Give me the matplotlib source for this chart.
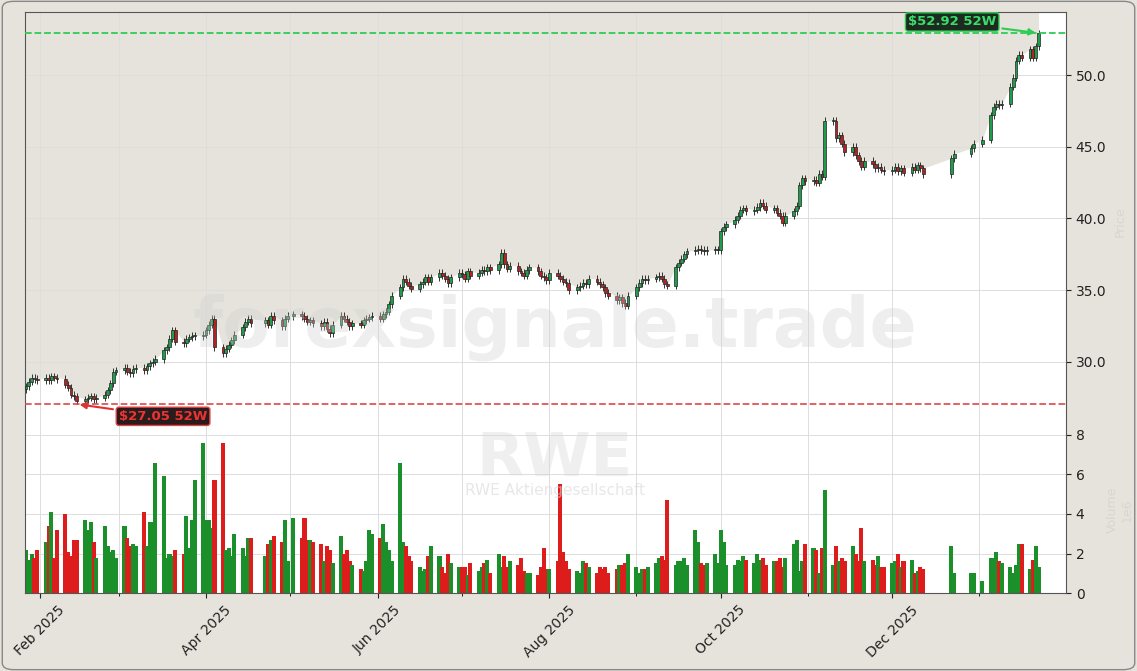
import matplotlib
matplotlib.use("Agg")
import matplotlib.pyplot as plt
import matplotlib.dates as mdates
from matplotlib.patches import FancyBboxPatch
import numpy as np
import pandas as pd

closes_by_month = {
    "2025-01": [28.3, 28.6, 28.9, 28.8, 28.7],
    "2025-02": [28.9, 28.7, 29.0, 28.9, 28.8, 28.4, 28.2, 27.7, 27.6, 27.3, 27.4, 27.5, 27.6, 27.4, 27.5, 27.7, 28.0, 28.5, 29.3, 29.4],
    "2025-03": [29.6, 29.3, 29.2, 29.5, 29.6, 29.4, 29.7, 29.9, 30.0, 30.2, 30.8, 31.0, 31.6, 32.2, 31.4, 31.3, 31.6, 31.7, 31.8, 31.8, 31.9],
    "2025-04": [32.2, 32.6, 33.0, 31.0, 30.6, 30.9, 31.2, 31.5, 31.9, 32.4, 32.8, 33.0, 32.7, 32.9, 32.6, 33.2, 32.9, 32.5, 33.0, 33.2],
    "2025-05": [33.3, 33.2, 33.0, 32.8, 32.9, 32.7, 32.5, 32.8, 32.3, 32.0, 32.6, 33.2, 33.0, 32.8, 32.5, 32.7, 32.6, 32.9, 33.0, 33.1, 33.2],
    "2025-06": [33.0, 33.3, 33.5, 34.0, 34.6, 35.2, 35.8, 35.6, 35.3, 35.1, 35.4, 35.6, 35.9, 35.6, 35.9, 36.2, 36.0, 35.8, 35.5, 35.9, 36.2],
    "2025-07": [36.1, 35.8, 36.3, 36.0, 36.2, 36.4, 36.3, 36.6, 36.4, 36.8, 37.6, 36.8, 36.5, 36.7, 36.3, 36.2, 36.0, 36.4, 36.6, 36.3, 36.0, 35.9, 35.7],
    "2025-08": [36.2, 36.0, 35.8, 35.6, 35.5, 35.0, 35.2, 35.3, 35.5, 35.4, 35.8, 35.6, 35.4, 35.2, 34.8, 34.6, 34.3, 34.5, 34.1, 33.9, 34.6],
    "2025-09": [35.2, 35.5, 35.8, 35.7, 35.8, 35.9, 36.0, 35.8, 35.4, 35.3, 36.6, 36.9, 37.2, 37.5, 37.7, 37.8, 37.9, 37.8, 37.7, 37.8, 37.8, 37.8],
    "2025-10": [39.1, 39.4, 39.6, 39.9, 40.2, 40.6, 40.7, 40.5, 40.6, 40.8, 41.1, 40.9, 40.6, 40.7, 40.4, 40.2, 39.7, 40.2, 40.5, 40.9, 42.3, 42.8, 42.6],
    "2025-11": [42.7, 42.5, 43.1, 42.9, 46.8, 46.8, 45.6, 45.8, 45.2, 44.6, 45.0, 44.4, 44.0, 43.6, 44.0, 43.8, 43.5, 43.6, 43.4, 43.3],
    "2025-12": [43.4, 43.6, 43.3, 43.5, 43.2, 43.6, 43.4, 43.7, 43.5, 43.1, 44.2, 44.5, 44.9, 45.2],
    "2026-01": [45.5, 47.2, 47.8, 48.0, 47.9, 48.0, 49.2, 49.8, 51.0, 51.4, 51.2, 51.8, 51.2, 52.0, 52.9],
}
volumes_by_month = {
    "2025-01": [2.2, 1.7, 2.0, 1.8, 2.2],
    "2025-02": [2.6, 3.4, 4.1, 1.8, 3.2, 4.0, 2.1, 1.9, 2.7, 2.7, 3.7, 3.2, 3.6, 2.6, 1.8, 3.4, 2.4, 2.1, 2.2, 1.8],
    "2025-03": [3.4, 2.8, 2.4, 2.5, 2.4, 4.1, 2.4, 3.6, 3.6, 6.6, 5.9, 1.8, 2.0, 1.9, 2.2, 2.0, 3.9, 2.3, 3.7, 5.7, 7.6],
    "2025-04": [3.7, 3.7, 3.3, 5.7, 7.6, 2.2, 2.3, 1.9, 3.0, 2.3, 1.9, 2.8, 2.8, 1.9, 2.5, 2.7, 2.9, 2.6, 3.7, 1.6],
    "2025-05": [3.8, 2.8, 3.8, 2.7, 2.7, 2.6, 2.5, 1.6, 2.4, 2.2, 1.5, 2.9, 2.0, 2.2, 1.6, 1.4, 1.2, 1.1, 1.6, 3.2, 3.0],
    "2025-06": [2.8, 3.5, 2.6, 2.2, 1.6, 6.6, 2.6, 2.4, 1.9, 1.6, 1.3, 1.1, 1.2, 1.9, 2.4, 1.9, 1.3, 1.0, 2.0, 1.5, 1.3],
    "2025-07": [1.3, 1.3, 0.9, 1.5, 1.1, 1.3, 1.5, 1.7, 1.0, 2.0, 1.3, 1.9, 1.3, 1.6, 1.4, 1.8, 1.1, 1.0, 1.0, 0.9, 1.3, 2.3, 1.2],
    "2025-08": [1.2, 1.6, 5.5, 2.1, 1.6, 1.2, 1.1, 1.0, 1.6, 1.5, 1.3, 1.0, 1.3, 1.2, 1.3, 1.0, 1.2, 1.4, 1.4, 1.5, 2.0],
    "2025-09": [1.3, 1.0, 1.2, 1.2, 1.3, 1.5, 1.8, 1.9, 1.7, 4.7, 1.4, 1.6, 1.6, 1.8, 1.4, 3.2, 2.6, 1.5, 1.4, 1.5, 2.0, 1.5],
    "2025-10": [3.2, 2.6, 1.4, 1.4, 1.7, 1.6, 1.9, 1.7, 1.5, 2.0, 1.7, 1.8, 1.4, 1.6, 1.6, 1.8, 1.3, 1.8, 2.5, 2.7, 1.1, 1.6, 2.5],
    "2025-11": [2.3, 2.2, 1.0, 2.3, 5.2, 1.4, 2.4, 1.6, 1.8, 1.6, 2.4, 2.0, 1.6, 3.3, 1.6, 1.7, 1.4, 1.9, 1.3, 1.3],
    "2025-12": [1.5, 1.6, 2.0, 1.3, 1.6, 1.7, 1.0, 1.1, 1.3, 1.2, 2.4, 1.0, 1.0, 1.0],
    "2026-01": [0.6, 1.8, 1.8, 2.1, 1.6, 1.5, 1.3, 1.0, 1.4, 2.5, 2.5, 1.2, 1.7, 2.4, 1.3],
}
holidays = ["2025-04-18", "2025-04-21", "2025-05-01", "2025-12-15", "2025-12-16", "2025-12-17",
            "2025-12-18", "2025-12-19", "2025-12-24", "2025-12-25", "2025-12-26", "2025-12-31", "2026-01-01"]
high_52w = 52.92
low_52w = 27.05
ticker = "RWE"
company = "RWE Aktiengesellschaft"

days = pd.bdate_range("2025-01-27", "2026-01-22")
days = days[~days.isin(pd.to_datetime(holidays))]
closes = np.concatenate([closes_by_month[k] for k in closes_by_month])
vols = np.concatenate([volumes_by_month[k] for k in volumes_by_month])
n = min(len(days), len(closes), len(vols))
days, closes, vols = days[:n], closes[:n], vols[:n]
opens = np.concatenate([[closes[0] - 0.2], closes[:-1]])
x = mdates.date2num(days)
up = closes >= opens

BG = "#e6e3dc"
fig = plt.figure(figsize=(11.37, 6.71), dpi=100, facecolor=BG)
axp = fig.add_axes([0.022, 0.352, 0.9155, 0.630])
axv = fig.add_axes([0.022, 0.116, 0.9155, 0.236], sharex=axp)
top = 54.39
axp.set_ylim(24.91, top)
axv.set_ylim(0, 8)
xmin = mdates.date2num(pd.Timestamp("2025-01-26 15:00"))
xmax = mdates.date2num(pd.Timestamp("2026-01-31 18:00"))
axp.set_xlim(xmin, xmax)

upper = np.maximum(opens, closes)
axp.fill_between(np.concatenate([[xmin], x]), np.concatenate([[upper[0]], upper]), top,
                 color=BG, zorder=0, lw=0)
for xi, o, c in zip(x, opens, closes):
    col = "#1e9e4a" if c >= o else "#b52222"
    hi = max(o, c) + 0.25
    lo = min(o, c) - 0.25
    axp.vlines(xi, lo, hi, color="#333333", lw=0.7, zorder=2)
    axp.bar(xi, max(abs(c - o), 0.06), bottom=min(o, c), width=1.0,
            color=col, edgecolor="#222222", lw=0.5, zorder=3)

axp.axhline(high_52w, color="#2ecc55", ls="--", lw=1.3, zorder=4)
axp.axhline(low_52w, color="#dd4444", ls="--", lw=1.3, alpha=0.9, zorder=4)
ihi = int(np.argmax(closes)); ilo = int(np.argmin(closes))
axp.annotate(f"${high_52w:.2f} 52W", xy=(x[ihi], high_52w), xytext=(x[ihi] - 15, 53.7),
             color="#3ddc6a", fontsize=9.5, fontweight="bold", ha="right", va="center",
             bbox=dict(boxstyle="round,pad=0.2", fc="#1c2a20", ec="#2ecc55", lw=1),
             arrowprops=dict(arrowstyle="-|>", color="#2ecc55", lw=1.5), zorder=6)
axp.annotate(f"${low_52w:.2f} 52W", xy=(x[ilo], low_52w), xytext=(x[ilo] + 15, 26.2),
             color="#ee3333", fontsize=9.5, fontweight="bold", ha="left", va="center",
             bbox=dict(boxstyle="round,pad=0.2", fc="#2a1c1c", ec="#dd4444", lw=1),
             arrowprops=dict(arrowstyle="-|>", color="#dd3333", lw=1.5), zorder=6)

axv.bar(x, vols, width=1.45, color=np.where(up, "#1a8f2a", "#dd1c1c"), zorder=2)

for ax in (axp, axv):
    ax.set_facecolor("white")
    ax.yaxis.tick_right()
    ax.grid(True, color="#dddddd", lw=0.7, zorder=0)
    ax.tick_params(colors="#222222", labelsize=10)
    for s in ax.spines.values():
        s.set_color("#555555")
axp.spines["bottom"].set_visible(False)
axv.spines["top"].set_visible(False)
axp.set_yticks([30, 35, 40, 45, 50])
axp.yaxis.set_major_formatter(matplotlib.ticker.FormatStrFormatter("%.1f"))
axv.set_yticks([0, 2, 4, 6, 8])
axp.tick_params(axis="x", bottom=False, labelbottom=False)
axv.xaxis.set_major_locator(mdates.MonthLocator(bymonth=[2, 4, 6, 8, 10, 12]))
axv.xaxis.set_minor_locator(mdates.MonthLocator())
axv.xaxis.set_major_formatter(mdates.DateFormatter("%b %Y"))
axv.grid(True, which="minor", axis="x", color="#dddddd", lw=0.7)
axp.xaxis.set_minor_locator(mdates.MonthLocator())
axp.grid(True, which="minor", axis="x", color="#dddddd", lw=0.7)
plt.setp(axv.get_xticklabels(), rotation=45, ha="center")

fig.text(0.488, 0.512, "forexsignale.trade", fontsize=50, fontweight="bold", color="#d0d0d0",
         alpha=0.35, ha="center", va="center")
fig.text(0.488, 0.315, ticker, fontsize=44, fontweight="bold", color="#d8d8d8", alpha=0.4,
         ha="center", va="center")
fig.text(0.488, 0.269, company, fontsize=11, color="#d8d8d8", alpha=0.6, ha="center", va="center")
fig.text(0.985, 0.67, "Price", rotation=90, fontsize=9, color="#d8d6d0", ha="center", va="center")
fig.text(0.985, 0.24, "Volume\n1e6", rotation=90, fontsize=9, color="#d8d6d0", ha="center", va="center")

fig.patches.append(FancyBboxPatch((0.002, 0.002), 0.996, 0.996, boxstyle="round,pad=0,rounding_size=0.01",
                                  transform=fig.transFigure, fc="none", ec="#888888", lw=1))
fig.savefig("out.png", dpi=100, facecolor=BG)
